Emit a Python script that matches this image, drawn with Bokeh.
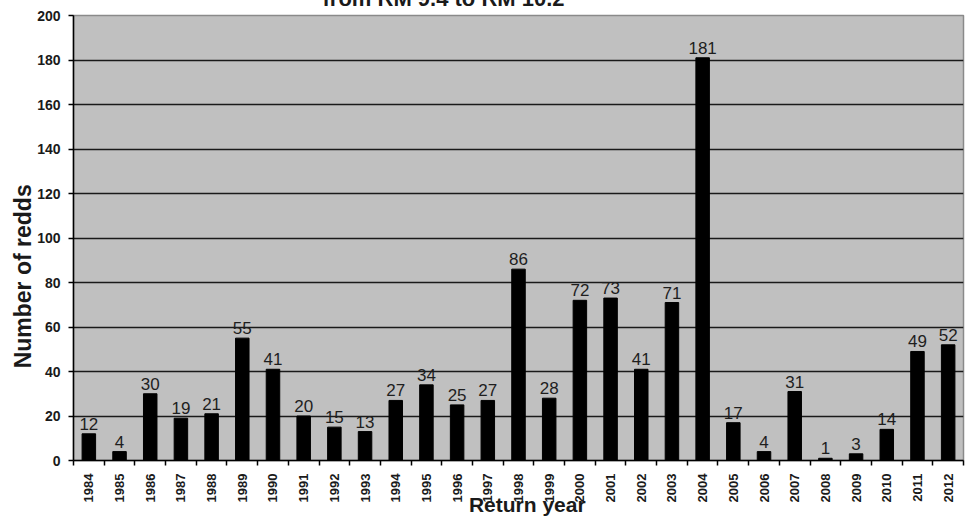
import math
from bokeh.plotting import figure
from bokeh.models import ColumnDataSource, FixedTicker, Range1d
from bokeh.core.properties import value
from bokeh.embed import file_html
from bokeh.resources import INLINE

years = ["1984", "1985", "1986", "1987", "1988", "1989", "1990", "1991", "1992", "1993",
         "1994", "1995", "1996", "1997", "1998", "1999", "2000", "2001", "2002", "2003",
         "2004", "2005", "2006", "2007", "2008", "2009", "2010", "2011", "2012"]
redds = [12, 4, 30, 19, 21, 55, 41, 20, 15, 13,
         27, 34, 25, 27, 86, 28, 72, 73, 41, 71,
         181, 17, 4, 31, 1, 3, 14, 49, 52]
y_ticks = [0, 20, 40, 60, 80, 100, 120, 140, 160, 180, 200]
title_text = "from RM 9.4 to RM 10.2"
x_label = "Return year"
y_label = "Number of redds"

pos = list(range(1, len(years) + 1))
src = ColumnDataSource(dict(x=pos, y=redds, lbl=[str(v) for v in redds]))

FONT = "Liberation Sans"
NB = "\u00a0"
SHIFT = 30  # canvas raised so that the title is cut by the top of the window, as in the reference

p = figure(width=968, height=519 + SHIFT, output_backend="svg", toolbar_location=None,
           x_range=Range1d(0.5, len(years) + 0.5), y_range=Range1d(0, 200),
           min_border_left=73, min_border_right=5, min_border_top=15 + SHIFT,
           min_border_bottom=57)
p.styles = {"margin-top": f"-{SHIFT}px"}

p.background_fill_color = "#c0c0c0"
p.border_fill_color = "white"
p.outline_line_color = "#8a8a8a"
p.outline_line_width = 1.5

p.title.text = title_text
p.title.align = "left"
p.title.offset = 249
p.title.standoff = 10
p.title.text_font = FONT
p.title.text_font_style = "bold"
p.title.text_font_size = "22px"
p.title.text_color = "#1a1a1a"

p.vbar(x="x", top="y", width=0.44, source=src, fill_color="black", line_color="black")
p.text(x="x", y="y", text="lbl", source=src, text_align="center", text_baseline="alphabetic",
       y_offset=-10, text_font=value(FONT), text_font_size="17px", text_color="#1e1e1e")

# y axis
p.yaxis.ticker = FixedTicker(ticks=y_ticks)
p.yaxis.major_label_text_font = FONT
p.yaxis.major_label_text_font_style = "bold"
p.yaxis.major_label_text_font_size = "14px"
p.yaxis.major_label_text_color = "#1a1a1a"
p.yaxis.major_label_standoff = 8
p.yaxis.major_tick_out = 5
p.yaxis.major_tick_in = 0
p.yaxis.minor_tick_out = 0
p.yaxis.minor_tick_in = 0
p.yaxis.axis_line_color = "black"
p.yaxis.axis_line_width = 1.5
p.yaxis.major_tick_line_width = 1.5
p.yaxis.axis_label = y_label + NB * 12
p.yaxis.axis_label_text_font = FONT
p.yaxis.axis_label_text_font_style = "bold"
p.yaxis.axis_label_text_font_size = "23px"
p.yaxis.axis_label_text_color = "#1a1a1a"
p.yaxis.axis_label_standoff = -2

# x axis
boundaries = [i + 0.5 for i in range(0, len(years) + 1)]
p.xaxis.ticker = FixedTicker(ticks=pos, minor_ticks=boundaries)
p.xaxis.major_label_overrides = {i: y for i, y in zip(pos, years)}
p.xaxis.major_label_orientation = math.pi / 2
p.xaxis.major_label_text_font = FONT
p.xaxis.major_label_text_font_style = "bold"
p.xaxis.major_label_text_font_size = "13px"
p.xaxis.major_label_text_color = "#1a1a1a"
p.xaxis.major_label_standoff = 8
p.xaxis.major_tick_out = 0
p.xaxis.major_tick_in = 0
p.xaxis.minor_tick_out = 5
p.xaxis.minor_tick_in = 0
p.xaxis.minor_tick_line_width = 1.5
p.xaxis.minor_tick_line_color = "black"
p.xaxis.axis_line_color = "black"
p.xaxis.axis_line_width = 1.5
p.xaxis.axis_label = NB * 3 + x_label
p.xaxis.axis_label_text_font = FONT
p.xaxis.axis_label_text_font_style = "bold"
p.xaxis.axis_label_text_font_size = "21px"
p.xaxis.axis_label_text_color = "#1a1a1a"
p.xaxis.axis_label_standoff = -12

p.xgrid.grid_line_color = None
p.ygrid.ticker = FixedTicker(ticks=y_ticks)
p.ygrid.grid_line_color = "#1a1a1a"
p.ygrid.grid_line_width = 1.5

open("out.html", "w").write(file_html(p, INLINE))
